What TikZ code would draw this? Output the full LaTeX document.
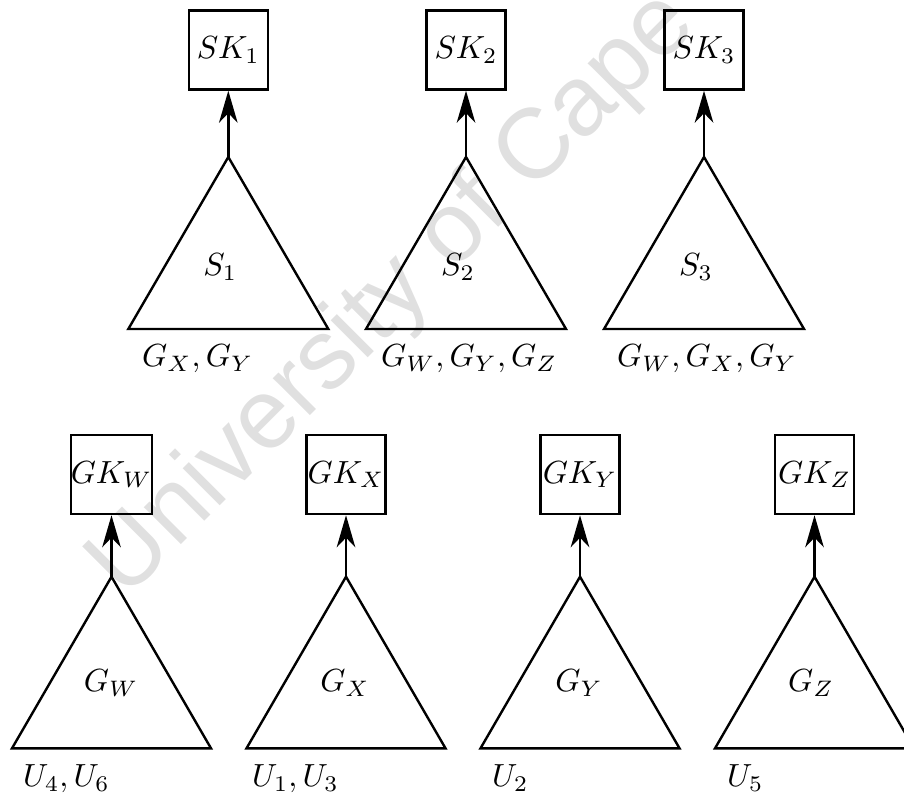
\documentclass[tikz,border=0pt]{standalone}
\usepackage{fontspec}
\newfontfamily\wmfont{Liberation Sans}
\usetikzlibrary{arrows.meta}
\begin{document}
\begin{tikzpicture}[x=0.3125pt, y=-0.3125pt,
  line width=0.75pt,
  keybox/.style={draw, minimum size=24.7pt, inner sep=0pt},
  tri/.style={draw, line join=miter},
  lab/.style={inner sep=0pt},
  sublab/.style={inner sep=0pt, anchor=base west},
  up/.style={-{Stealth[length=10pt,width=5.8pt,inset=3pt]}},
  wm/.style={text=black!12, font=\wmfont\fontsize{31}{31}\selectfont, rotate=45, anchor=base west, inner sep=0pt}]
\useasboundingbox (0,0) rectangle (904,801);
\begin{scope}
\clip (0,0) rectangle (904,801);
\node[wm] (wm) at (125,601) {University of Cape};
\end{scope}

% top row
\coordinate (a1) at (228.3,157);
\coordinate (a2) at (466,157);
\coordinate (a3) at (704,157);
\foreach \a in {a1,a2,a3} \draw[tri] (\a) -- ++(-100,172) -- ++(200,0) -- cycle;
\node[keybox] (sk1) at (228.3,50) {$SK_1$};
\node[keybox] (sk2) at (466,50) {$SK_2$};
\node[keybox] (sk3) at (704,50) {$SK_3$};
\draw[up] (a1) -- (sk1);
\draw[up] (a2) -- (sk2);
\draw[up] (a3) -- (sk3);
\node[lab] (s1) at (220.3,267) {$S_1$};
\node[lab] (s2) at (458,267) {$S_2$};
\node[lab] (s3) at (696,267) {$S_3$};
\node[sublab] (g1) at (141,366.5) {$G_X, G_Y$};
\node[sublab] (g2) at (380,366.5) {$G_W, G_Y, G_Z$};
\node[sublab] (g3) at (616,366.5) {$G_W, G_X, G_Y$};

% bottom row
\coordinate (b1) at (111.5,576.7);
\coordinate (b2) at (346,576.7);
\coordinate (b3) at (580,576.7);
\coordinate (b4) at (814.5,576.7);
\foreach \b in {b1,b2,b3,b4} \draw[tri] (\b) -- ++(-99.5,171.6) -- ++(199,0) -- cycle;
\node[keybox] (gkw) at (111.5,474.5) {$GK_W$};
\node[keybox] (gkx) at (346,474.5) {$GK_X$};
\node[keybox] (gky) at (580,474.5) {$GK_Y$};
\node[keybox] (gkz) at (814.5,474.5) {$GK_Z$};
\draw[up] (b1) -- (gkw);
\draw[up] (b2) -- (gkx);
\draw[up] (b3) -- (gky);
\draw[up] (b4) -- (gkz);
\node[lab] (gw) at (111,683) {$G_W$};
\node[lab] (gx) at (345,683) {$G_X$};
\node[lab] (gy) at (579,683) {$G_Y$};
\node[lab] (gz) at (811,683) {$G_Z$};
\node[sublab] (u1) at (22,786.7) {$U_4, U_6$};
\node[sublab] (u2) at (251,786.7) {$U_1, U_3$};
\node[sublab] (u3) at (491,786.7) {$U_2$};
\node[sublab] (u4) at (726,786.7) {$U_5$};
\end{tikzpicture}
\end{document}
